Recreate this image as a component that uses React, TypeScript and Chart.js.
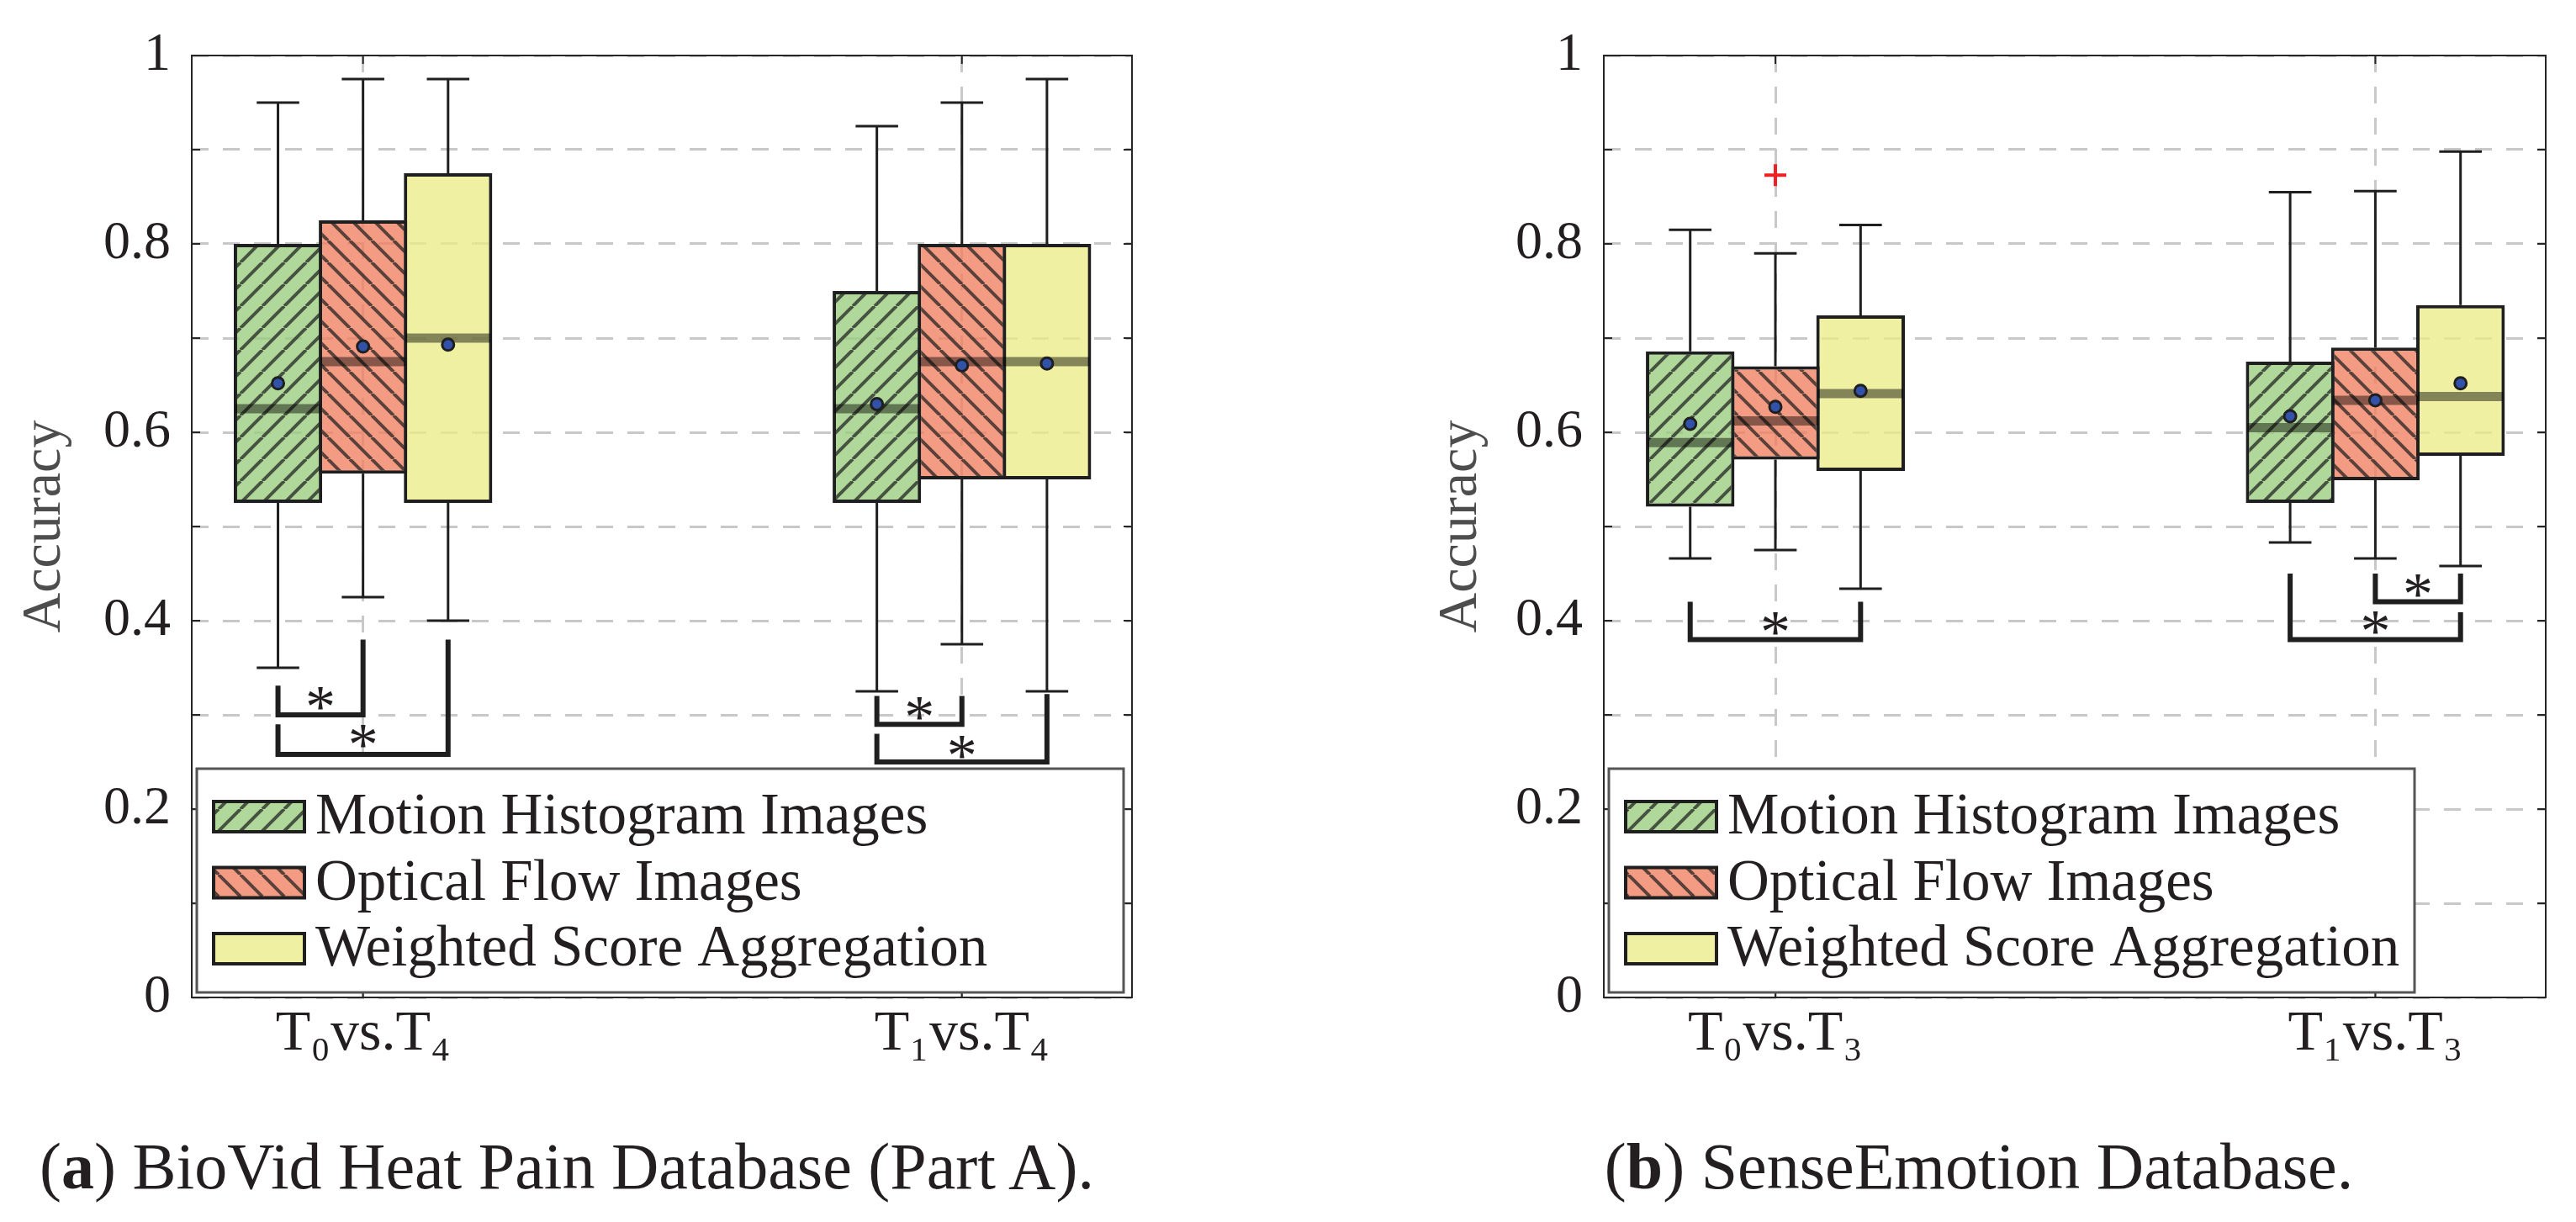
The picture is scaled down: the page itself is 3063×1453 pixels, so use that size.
import React, { useEffect, useRef } from 'react';
import { Chart, registerables } from 'chart.js';

Chart.register(...registerables);

// ---------------- data ----------------
const SERIES_LABELS = ['Motion Histogram Images', 'Optical Flow Images', 'Weighted Score Aggregation'];

// Panel (a) BioVid Heat Pain Database (Part A)
const A_CATEGORIES = ['T₀vs.T₄', 'T₁vs.T₄'];
// [series][category]
const A_LOWER = [[0.35, 0.325], [0.425, 0.375], [0.40, 0.325]];
const A_Q1 = [[0.525, 0.525], [0.556, 0.55], [0.525, 0.55]];
const A_MEDIAN = [[0.625, 0.625], [0.675, 0.675], [0.70, 0.675]];
const A_Q3 = [[0.80, 0.75], [0.825, 0.80], [0.875, 0.80]];
const A_UPPER = [[0.95, 0.925], [0.975, 0.95], [0.975, 0.975]];
const A_MEAN = [[0.652, 0.630], [0.691, 0.671], [0.693, 0.673]];
const A_OUTLIERS = [[[], []], [[], []], [[], []]];
// [category, fromSeries, toSeries, fromLegTop, toLegTop, bottom, starValue]
const A_BRACKETS = [
  [0, 0, 1, 0.331, 0.38, 0.30, 0.317],
  [0, 0, 2, 0.29, 0.38, 0.258, 0.277],
  [1, 0, 1, 0.32, 0.32, 0.29, 0.307],
  [1, 0, 2, 0.28, 0.322, 0.25, 0.266],
];

// Panel (b) SenseEmotion Database
const B_CATEGORIES = ['T₀vs.T₃', 'T₁vs.T₃'];
const B_LOWER = [[0.466, 0.483], [0.475, 0.466], [0.434, 0.458]];
const B_Q1 = [[0.521, 0.525], [0.571, 0.549], [0.559, 0.575]];
const B_MEDIAN = [[0.589, 0.605], [0.612, 0.634], [0.641, 0.638]];
const B_Q3 = [[0.686, 0.675], [0.670, 0.690], [0.724, 0.735]];
const B_UPPER = [[0.815, 0.855], [0.790, 0.856], [0.820, 0.898]];
const B_MEAN = [[0.609, 0.617], [0.627, 0.634], [0.644, 0.652]];
const B_OUTLIERS = [[[], []], [[0.873], []], [[], []]];
const B_BRACKETS = [
  [0, 0, 2, 0.42, 0.42, 0.38, 0.397],
  [1, 1, 2, 0.45, 0.45, 0.42, 0.437],
  [1, 0, 2, 0.45, 0.409, 0.38, 0.398],
];

const Y_TICK_STEP = 0.1;
const Y_LABEL_STEP = 0.2;

// ---------------- styles ----------------
const FONT = '"Liberation Serif", "Times New Roman", serif';
const TEXT = '#231f20';
const EDGE = '#1f1f1f';
const GRID = '#c8c8c8';
const SERIES_FILL = ['rgba(154,205,126,0.78)', 'rgba(241,128,96,0.78)', 'rgba(236,236,136,0.78)'];
const SERIES_HATCH = ['/', '\\', ''];
const HATCH_COLOR = 'rgba(30,30,30,0.72)';

const X_MIN = 0.714;
const X_MAX = 2.284;
const SERIES_OFFSET = 0.142;
const CAP_HALF = SERIES_OFFSET / 4;
const BOX_HALF = SERIES_OFFSET / 2;
const CANVAS_H = 1300;
const PLOT_TOP = 66;
const PLOT_BOTTOM = 1186;

const pos = (c: number, s: number) => c + 1 + (s - 1) * SERIES_OFFSET;

function makePattern(fill: string, hatch: string): any {
  const s = 26;
  const cv = document.createElement('canvas');
  cv.width = s;
  cv.height = s;
  const g = cv.getContext('2d')!;
  g.fillStyle = fill;
  g.fillRect(0, 0, s, s);
  if (hatch) {
    g.strokeStyle = HATCH_COLOR;
    g.lineWidth = 4;
    g.beginPath();
    for (const k of [-1, 0, 1]) {
      if (hatch === '/') {
        g.moveTo(k * s, s);
        g.lineTo(k * s + s, 0);
      } else {
        g.moveTo(k * s, 0);
        g.lineTo(k * s + s, s);
      }
    }
    g.stroke();
  }
  return g.createPattern(cv, 'repeat');
}

const framePlugin = {
  id: 'axesFrame',
  afterDatasetsDraw(chart: any) {
    const { ctx, chartArea: a, scales } = chart;
    const x = scales.x;
    const y = scales.y;
    ctx.save();
    ctx.strokeStyle = '#262626';
    ctx.lineWidth = 2;
    ctx.strokeRect(a.left, a.top, a.right - a.left, a.bottom - a.top);
    ctx.beginPath();
    y.ticks.forEach((t: any) => {
      const py = y.getPixelForValue(t.value);
      ctx.moveTo(a.left, py);
      ctx.lineTo(a.left + 10, py);
      ctx.moveTo(a.right, py);
      ctx.lineTo(a.right - 10, py);
    });
    x.ticks.forEach((t: any) => {
      const px = x.getPixelForValue(t.value);
      ctx.moveTo(px, a.bottom);
      ctx.lineTo(px, a.bottom - 10);
      ctx.moveTo(px, a.top);
      ctx.lineTo(px, a.top + 10);
    });
    ctx.stroke();
    ctx.restore();
  },
};

const starPlugin = {
  id: 'sigStars',
  afterDatasetsDraw(chart: any, _args: any, opts: any) {
    const { ctx, scales } = chart;
    const x = scales.x;
    const y = scales.y;
    ctx.save();
    ctx.font = `72px ${FONT}`;
    ctx.fillStyle = TEXT;
    ctx.textAlign = 'center';
    ctx.textBaseline = 'alphabetic';
    const m = ctx.measureText('*');
    const shift = (m.actualBoundingBoxAscent - m.actualBoundingBoxDescent) / 2;
    (opts.brackets || []).forEach((b: number[]) => {
      const [c, f, t, , , , sv] = b;
      const px = x.getPixelForValue((pos(c, f) + pos(c, t)) / 2);
      const py = y.getPixelForValue(sv);
      ctx.fillText('*', px, py + shift);
    });
    ctx.restore();
  },
};

const legendPlugin = {
  id: 'boxLegend',
  afterDraw(chart: any, _args: any, opts: any) {
    const { ctx, chartArea: a } = chart;
    const left = a.left + opts.inset;
    const top = a.bottom - opts.inset - opts.height;
    ctx.save();
    ctx.fillStyle = '#ffffff';
    ctx.fillRect(left, top, opts.width, opts.height);
    ctx.lineWidth = 3;
    ctx.strokeStyle = '#555555';
    ctx.strokeRect(left, top, opts.width, opts.height);
    const boxes = chart.data.datasets.filter((d: any) => d.type === 'bar');
    boxes.forEach((d: any, i: number) => {
      const cy = top + 57 + i * 78.5;
      const sx = left + 20;
      const sw = 108;
      const sh = 36;
      ctx.fillStyle = d.backgroundColor;
      ctx.fillRect(sx, cy - sh / 2, sw, sh);
      ctx.lineWidth = 4;
      ctx.strokeStyle = EDGE;
      ctx.strokeRect(sx, cy - sh / 2, sw, sh);
      ctx.fillStyle = TEXT;
      ctx.font = `69px ${FONT}`;
      ctx.textAlign = 'left';
      ctx.textBaseline = 'middle';
      ctx.fillText(d.label, left + 141, cy + 2);
    });
    ctx.restore();
  },
};

type Panel = {
  categories: string[];
  lower: number[][];
  q1: number[][];
  median: number[][];
  q3: number[][];
  upper: number[][];
  mean: number[][];
  outliers: number[][][];
  brackets: number[][];
  canvasLeft: number;
  canvasWidth: number;
  axisWidth: number;
  titlePad: number;
  padRight: number;
  legendWidth: number;
};

function buildDatasets(p: Panel, patterns: any[]) {
  const ds: any[] = [];
  SERIES_LABELS.forEach((label, s) => {
    ds.push({
      type: 'bar',
      label,
      data: p.q1[s].map((v, c) => ({ x: pos(c, s), y: [v, p.q3[s][c]] })),
      backgroundColor: patterns[s],
      borderColor: EDGE,
      borderWidth: 4,
      borderSkipped: false,
      grouped: false,
      barPercentage: 1.04,
      categoryPercentage: 1,
      order: 10,
    });
  });
  const whisker: any[] = [];
  const caps: any[] = [];
  const medians: any[] = [];
  const means: any[] = [];
  const outl: any[] = [];
  SERIES_LABELS.forEach((_l, s) => {
    p.categories.forEach((_c, c) => {
      const xc = pos(c, s);
      whisker.push(
        { x: xc, y: p.upper[s][c] }, { x: xc, y: p.q3[s][c] }, { x: xc, y: null },
        { x: xc, y: p.q1[s][c] }, { x: xc, y: p.lower[s][c] }, { x: xc, y: null },
      );
      caps.push(
        { x: xc - CAP_HALF, y: p.upper[s][c] }, { x: xc + CAP_HALF, y: p.upper[s][c] }, { x: xc, y: null },
        { x: xc - CAP_HALF, y: p.lower[s][c] }, { x: xc + CAP_HALF, y: p.lower[s][c] }, { x: xc, y: null },
      );
      medians.push({ x: xc - BOX_HALF, y: p.median[s][c] }, { x: xc + BOX_HALF, y: p.median[s][c] }, { x: xc, y: null });
      means.push({ x: xc, y: p.mean[s][c] });
      p.outliers[s][c].forEach((v) => outl.push({ x: xc, y: v }));
    });
  });
  const line = { type: 'line', pointRadius: 0, pointHoverRadius: 0, spanGaps: false, fill: false, borderCapStyle: 'butt' };
  ds.push({ ...line, label: 'whiskers', data: whisker, borderColor: EDGE, borderWidth: 3, order: 5 });
  ds.push({ ...line, label: 'caps', data: caps, borderColor: EDGE, borderWidth: 3, order: 5 });
  ds.push({ ...line, label: 'medians', data: medians, borderColor: 'rgba(0,0,0,0.45)', borderWidth: 11, order: 4 });
  const br: any[] = [];
  p.brackets.forEach((b) => {
    const [c, f, t, ft, tt, bot] = b;
    const xf = pos(c, f);
    const xt = pos(c, t);
    br.push({ x: xf, y: ft }, { x: xf, y: bot }, { x: xt, y: bot }, { x: xt, y: tt }, { x: xt, y: null });
  });
  ds.push({ ...line, label: 'significance', data: br, borderColor: EDGE, borderWidth: 6, borderJoinStyle: 'miter', order: 3 });
  ds.push({
    type: 'scatter', label: 'means', data: means, pointRadius: 7, pointHoverRadius: 7,
    backgroundColor: '#3152a8', borderColor: EDGE, borderWidth: 3, order: 1,
  });
  ds.push({
    type: 'scatter', label: 'outliers', data: outl, pointStyle: 'cross', pointRadius: 13, pointHoverRadius: 13,
    borderColor: '#ee1f25', backgroundColor: '#ee1f25', borderWidth: 4, order: 1,
  });
  return ds;
}

function BoxChart({ p }: { p: Panel }) {
  const ref = useRef<HTMLCanvasElement>(null);
  useEffect(() => {
    const patterns = SERIES_FILL.map((f, i) => makePattern(f, SERIES_HATCH[i]));
    const tickFont = { family: FONT, size: 64 };
    const chart = new Chart(ref.current as HTMLCanvasElement, {
      type: 'bar',
      data: { datasets: buildDatasets(p, patterns) },
      options: {
        animation: false,
        responsive: false,
        devicePixelRatio: 1,
        events: [],
        layout: { padding: { top: PLOT_TOP, right: p.padRight, left: 0, bottom: 0 } },
        plugins: {
          legend: { display: false },
          tooltip: { enabled: false },
          boxLegend: { inset: 6, height: 266, width: p.legendWidth },
          sigStars: { brackets: p.brackets },
        } as any,
        scales: {
          x: {
            type: 'linear',
            min: X_MIN,
            max: X_MAX,
            offset: false,
            afterBuildTicks: (s: any) => {
              s.ticks = p.categories.map((_c, i) => ({ value: i + 1 }));
            },
            afterFit: (s: any) => {
              s.height = CANVAS_H - PLOT_BOTTOM;
            },
            ticks: {
              autoSkip: false,
              maxRotation: 0,
              padding: 3,
              color: TEXT,
              font: { family: FONT, size: 68 },
              callback: (v: any) => p.categories[Math.round(Number(v)) - 1] ?? '',
            },
            grid: { color: GRID, lineWidth: 3, drawTicks: false, offset: false },
            border: { display: false, dash: [20, 17] },
          },
          y: {
            type: 'linear',
            min: 0,
            max: 1,
            afterFit: (s: any) => {
              s.width = p.axisWidth;
            },
            ticks: {
              stepSize: Y_TICK_STEP,
              autoSkip: false,
              padding: 25,
              color: TEXT,
              font: tickFont,
              callback: (v: any) => {
                const n = Number(v);
                const k = Math.round(n / Y_TICK_STEP);
                const step = Math.round(Y_LABEL_STEP / Y_TICK_STEP);
                return k % step === 0 ? String(Number(n.toFixed(1))) : '';
              },
            },
            grid: { color: GRID, lineWidth: 3, drawTicks: false },
            border: { display: false, dash: [20, 17] },
            title: {
              display: true,
              text: 'Accuracy',
              color: '#4d4d4d',
              font: { family: FONT, size: 66 },
              padding: { top: p.titlePad, bottom: 0 },
            },
          },
        } as any,
      },
      plugins: [framePlugin, starPlugin, legendPlugin],
    } as any);
    return () => chart.destroy();
  }, []);
  return (
    <canvas
      ref={ref}
      width={p.canvasWidth}
      height={CANVAS_H}
      style={{ position: 'absolute', left: p.canvasLeft, top: 0, width: p.canvasWidth, height: CANVAS_H }}
    />
  );
}

const PANEL_A: Panel = {
  categories: A_CATEGORIES, lower: A_LOWER, q1: A_Q1, median: A_MEDIAN, q3: A_Q3, upper: A_UPPER,
  mean: A_MEAN, outliers: A_OUTLIERS, brackets: A_BRACKETS,
  canvasLeft: 0, canvasWidth: 1400, axisWidth: 228, titlePad: 14, padRight: 54, legendWidth: 1102,
};
const PANEL_B: Panel = {
  categories: B_CATEGORIES, lower: B_LOWER, q1: B_Q1, median: B_MEDIAN, q3: B_Q3, upper: B_UPPER,
  mean: B_MEAN, outliers: B_OUTLIERS, brackets: B_BRACKETS,
  canvasLeft: 1650, canvasWidth: 1413, axisWidth: 257, titlePad: 48, padRight: 36, legendWidth: 958,
};

const captionStyle: React.CSSProperties = {
  position: 'absolute', top: 1348, textAlign: 'center', fontFamily: FONT, fontSize: 78,
  lineHeight: '78px', color: TEXT, whiteSpace: 'nowrap',
};

export default function App() {
  return (
    <div style={{ position: 'fixed', left: 0, top: 0, width: 3063, height: 1453, background: '#fff', overflow: 'hidden' }}>
      <BoxChart p={PANEL_A} />
      <BoxChart p={PANEL_B} />
      <div style={{ ...captionStyle, left: 0, width: 1348 }}>
        (<b>a</b>) BioVid Heat Pain Database (Part A).
      </div>
      <div style={{ ...captionStyle, left: 1653, width: 1400 }}>
        (<b>b</b>) SenseEmotion Database.
      </div>
    </div>
  );
}
